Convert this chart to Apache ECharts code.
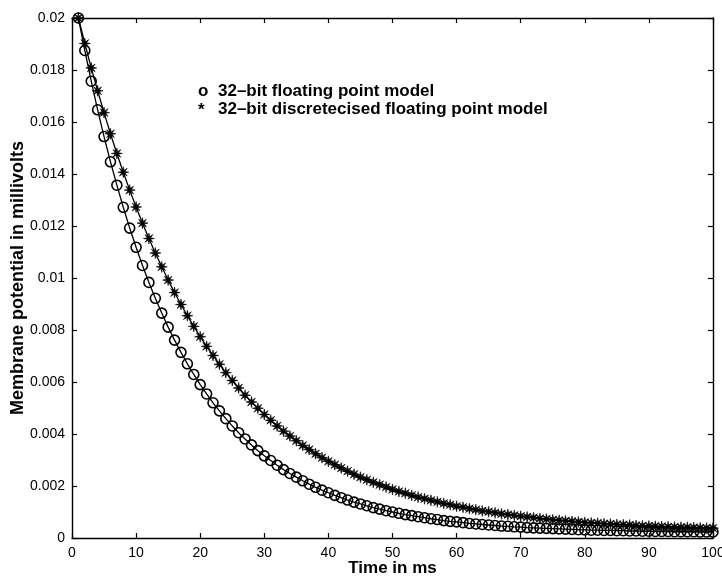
<!DOCTYPE html>
<html>
<head>
<meta charset="utf-8">
<script src="https://cdn.jsdelivr.net/npm/echarts@6/dist/echarts.min.js"></script>
<style>
  html, body { margin: 0; padding: 0; background: #fff; }
  #chart { width: 722px; height: 577px; }
</style>
</head>
<body>
<div id="chart"></div>
<script>
// Time axis (ms)
const timeMs = [
  1, 2, 3, 4, 5, 6, 7, 8, 9, 10,
  11, 12, 13, 14, 15, 16, 17, 18, 19, 20,
  21, 22, 23, 24, 25, 26, 27, 28, 29, 30,
  31, 32, 33, 34, 35, 36, 37, 38, 39, 40,
  41, 42, 43, 44, 45, 46, 47, 48, 49, 50,
  51, 52, 53, 54, 55, 56, 57, 58, 59, 60,
  61, 62, 63, 64, 65, 66, 67, 68, 69, 70,
  71, 72, 73, 74, 75, 76, 77, 78, 79, 80,
  81, 82, 83, 84, 85, 86, 87, 88, 89, 90,
  91, 92, 93, 94, 95, 96, 97, 98, 99, 100
];

// 32-bit floating point model (mV)
const floatModel = [
  0.02000, 0.01875, 0.01757, 0.01647, 0.01544, 0.01447, 0.01357, 0.01272, 0.01192, 0.01118,
  0.01048, 0.00983, 0.00922, 0.00865, 0.00811, 0.00761, 0.00714, 0.00670, 0.00629, 0.00590,
  0.00554, 0.00520, 0.00489, 0.00459, 0.00431, 0.00405, 0.00381, 0.00358, 0.00336, 0.00316,
  0.00298, 0.00280, 0.00263, 0.00248, 0.00234, 0.00220, 0.00207, 0.00195, 0.00184, 0.00174,
  0.00164, 0.00155, 0.00146, 0.00138, 0.00131, 0.00124, 0.00117, 0.00111, 0.00105, 0.00100,
  0.00095, 0.00090, 0.00086, 0.00082, 0.00078, 0.00074, 0.00071, 0.00067, 0.00064, 0.00062,
  0.00059, 0.00056, 0.00054, 0.00052, 0.00050, 0.00048, 0.00046, 0.00045, 0.00043, 0.00042,
  0.00040, 0.00039, 0.00038, 0.00037, 0.00036, 0.00035, 0.00034, 0.00033, 0.00032, 0.00031,
  0.00030, 0.00030, 0.00029, 0.00029, 0.00028, 0.00028, 0.00027, 0.00027, 0.00026, 0.00026,
  0.00025, 0.00025, 0.00025, 0.00024, 0.00024, 0.00024, 0.00024, 0.00023, 0.00023, 0.00023
];

// 32-bit discretecised floating point model (mV)
const discreteModel = [
  0.02000, 0.01902, 0.01808, 0.01720, 0.01636, 0.01555, 0.01479, 0.01407, 0.01338, 0.01273,
  0.01211, 0.01152, 0.01096, 0.01043, 0.00992, 0.00944, 0.00898, 0.00855, 0.00814, 0.00774,
  0.00737, 0.00702, 0.00668, 0.00636, 0.00606, 0.00577, 0.00549, 0.00523, 0.00499, 0.00475,
  0.00453, 0.00431, 0.00411, 0.00392, 0.00374, 0.00356, 0.00340, 0.00324, 0.00309, 0.00295,
  0.00282, 0.00269, 0.00257, 0.00245, 0.00234, 0.00224, 0.00214, 0.00205, 0.00196, 0.00187,
  0.00179, 0.00172, 0.00164, 0.00157, 0.00151, 0.00145, 0.00139, 0.00133, 0.00128, 0.00122,
  0.00118, 0.00113, 0.00109, 0.00104, 0.00101, 0.00097, 0.00093, 0.00090, 0.00087, 0.00084,
  0.00081, 0.00078, 0.00075, 0.00073, 0.00070, 0.00068, 0.00066, 0.00064, 0.00062, 0.00060,
  0.00058, 0.00057, 0.00055, 0.00054, 0.00052, 0.00051, 0.00050, 0.00048, 0.00047, 0.00046,
  0.00045, 0.00044, 0.00043, 0.00042, 0.00041, 0.00041, 0.00040, 0.00039, 0.00038, 0.00038
];

const seriesNames = [
  '32\u2013bit floating point model',
  '32\u2013bit discretecised floating point model'
];

const xTicks = { min: 0, max: 100, step: 10 };
const yTicks = { min: 0, max: 0.02, step: 0.002 };

// eight-spoke asterisk marker
const asteriskPath = 'path://M20 10 L13.2 11.3 L17.07 17.07 L11.3 13.2 L10 20 L8.7 13.2 L2.93 17.07 L6.8 11.3 L0 10 L6.8 8.7 L2.93 2.93 L8.7 6.8 L10 0 L11.3 6.8 L17.07 2.93 L13.2 8.7 Z';

const FONT = 'Liberation Sans, Arial, Helvetica, sans-serif';
const black = '#000';

const axisLineStyle = { show: true, onZero: false, lineStyle: { color: black, width: 1.4 } };
const tickStyle = { show: true, inside: true, length: 5, lineStyle: { color: black, width: 1.2 } };

const chart = echarts.init(document.getElementById('chart'), null, { renderer: 'canvas' });

chart.setOption({
  animation: false,
  backgroundColor: '#fff',
  grid: { left: 72, right: 9, top: 18, bottom: 39, containLabel: false, outerBoundsMode: 'none' },
  xAxis: [
    {
      type: 'value', position: 'bottom',
      min: xTicks.min, max: xTicks.max, interval: xTicks.step,
      name: 'Time in ms', nameLocation: 'middle', nameGap: 22, nameMoveOverlap: false,
      nameTextStyle: { fontFamily: FONT, fontWeight: 'bold', fontSize: 17, color: black },
      axisLine: axisLineStyle, axisTick: tickStyle,
      axisLabel: { margin: 8, fontFamily: FONT, fontSize: 14, color: black },
      splitLine: { show: false }
    },
    {
      type: 'value', position: 'top',
      min: xTicks.min, max: xTicks.max, interval: xTicks.step,
      axisLine: axisLineStyle, axisTick: tickStyle,
      axisLabel: { show: false }, splitLine: { show: false }
    }
  ],
  yAxis: [
    {
      type: 'value', position: 'left',
      min: yTicks.min, max: yTicks.max, interval: yTicks.step,
      name: 'Membrane potential in millivolts', nameLocation: 'middle', nameGap: 45, nameMoveOverlap: false,
      nameTextStyle: { fontFamily: FONT, fontWeight: 'bold', fontSize: 18, color: black },
      axisLine: axisLineStyle, axisTick: tickStyle,
      axisLabel: { margin: 7, fontFamily: FONT, fontSize: 14, color: black },
      splitLine: { show: false }
    },
    {
      type: 'value', position: 'right',
      min: yTicks.min, max: yTicks.max, interval: yTicks.step,
      axisLine: axisLineStyle, axisTick: tickStyle,
      axisLabel: { show: false }, splitLine: { show: false }
    }
  ],
  series: [
    {
      name: seriesNames[0], type: 'line',
      data: timeMs.map((t, i) => [t, floatModel[i]]),
      symbol: 'circle', symbolSize: 10, showSymbol: true,
      lineStyle: { color: black, width: 1.3 },
      itemStyle: { color: 'rgba(255,255,255,0)', borderColor: black, borderWidth: 1.6 },
      z: 3
    },
    {
      name: seriesNames[1], type: 'line',
      data: timeMs.map((t, i) => [t, discreteModel[i]]),
      symbol: asteriskPath, symbolSize: 11, showSymbol: true,
      lineStyle: { color: black, width: 1.3 },
      itemStyle: { color: black, borderColor: black, borderWidth: 0.6 },
      z: 4
    }
  ],
  graphic: [
    { type: 'text', left: 198, top: 83, style: { text: 'o', font: 'bold 17px ' + FONT, fill: black } },
    { type: 'text', left: 218, top: 83, style: { text: seriesNames[0], font: 'bold 17px ' + FONT, fill: black } },
    { type: 'text', left: 198, top: 102, style: { text: '*', font: 'bold 17px ' + FONT, fill: black } },
    { type: 'text', left: 218, top: 101, style: { text: seriesNames[1], font: 'bold 17px ' + FONT, fill: black } }
  ]
});
</script>
</body>
</html>
